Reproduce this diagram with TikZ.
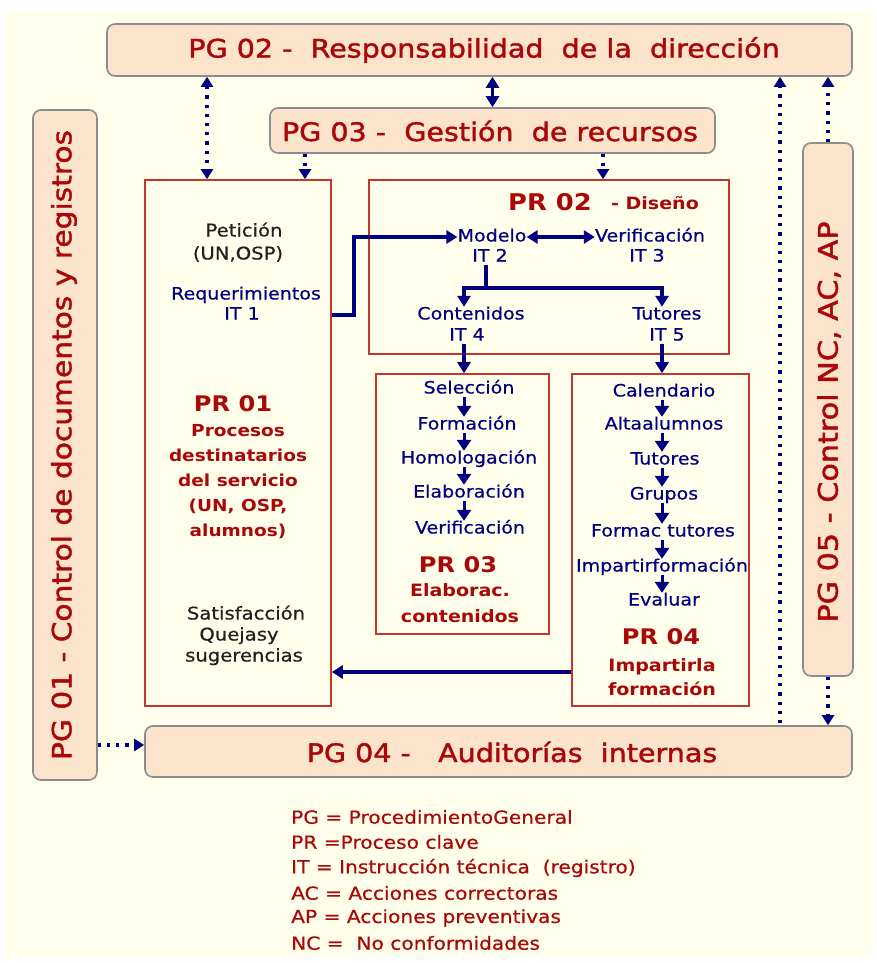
\documentclass[tikz,border=0pt]{standalone}
\usepackage{fontspec}
\setmainfont{DejaVu Sans}[FakeStretch=1.12, UprightFeatures={FakeBold=0.6}]
\newfontfamily\headfont{DejaVu Sans}[FakeStretch=1.12, FakeBold=1.6]
\usetikzlibrary{arrows.meta}

\definecolor{bgcream}{RGB}{255,255,236}
\definecolor{peachfill}{RGB}{252,228,204}
\definecolor{boxgray}{RGB}{140,140,140}
\definecolor{boxred}{RGB}{196,52,48}
\definecolor{navy}{RGB}{0,0,128}
\definecolor{dred}{RGB}{170,8,8}
\definecolor{txtgray}{RGB}{32,32,32}

\newcommand\pxsize[1]{\fontsize{#1}{#1}\selectfont}

\tikzset{
  peach/.style={draw=boxgray, line width=1.6pt, fill=peachfill, rounded corners=8pt, inner sep=0pt},
  redbox/.style={draw=boxred, line width=1.6pt, inner sep=0pt},
  ttl/.style={text=dred, font=\headfont\pxsize{25.5}, inner sep=0pt},
  vttl/.style={text=dred, font=\headfont\pxsize{26.5}, inner sep=0pt, rotate=90},
  itm/.style={text=navy, font=\pxsize{17}, inner sep=0pt, text height=12.5pt, text depth=3.5pt},
  gry/.style={text=txtgray, font=\pxsize{17.5}, inner sep=0pt, text height=12.5pt, text depth=3.5pt},
  prlbl/.style={text=dred, font=\bfseries\pxsize{21.5}, inner sep=0pt},
  prdesc/.style={text=dred, font=\bfseries\pxsize{17}, inner sep=0pt, align=center},
  leg/.style={text=dred, font=\pxsize{18}, inner sep=0pt, anchor=west},
  dotline/.style={draw=navy, line width=3.2pt, dash pattern=on 3.2pt off 6pt},
  dotarr/.style={dotline, -{Triangle[width=12pt,length=10pt]}},
  dotboth/.style={dotline, {Triangle[width=12pt,length=10pt]}-{Triangle[width=12pt,length=10pt]}},
  flow/.style={draw=navy, line width=4pt},
  flowarr/.style={flow, -{Triangle[width=13pt,length=11pt]}},
  flowboth/.style={flow, {Triangle[width=13pt,length=11pt]}-{Triangle[width=13pt,length=11pt]}},
  steparr/.style={draw=navy, line width=3pt, -{Triangle[width=14pt,length=11pt]}},
}

\begin{document}
\begin{tikzpicture}[x=1pt,y=-1pt]
\useasboundingbox (0,0) rectangle (877,963);
\fill[white] (0,0) rectangle (877,963);
\fill[bgcream] (5,12) rectangle (872,957);

% general procedures
\node[peach, minimum width=745pt, minimum height=52pt] (pg02) at (479.5,50) {};
\node[ttl] (pg02t) at (484,50) {PG 02 - ~Responsabilidad ~de la ~dirección};
\node[peach, minimum width=445pt, minimum height=45pt] (pg03) at (492.5,130.5) {};
\node[ttl] (pg03t) at (490,131) {PG 03 - ~Gestión ~de recursos};
\node[peach, minimum width=707pt, minimum height=51pt] (pg04) at (498.5,751.5) {};
\node[ttl] (pg04t) at (512,752) {PG 04 - ~ Auditorías ~internas};
\node[peach, minimum width=64pt, minimum height=670pt] (pg01) at (65,445) {};
\node[vttl] (pg01t) at (64,445) {PG 01 - Control de documentos y registros};
\node[peach, minimum width=50pt, minimum height=533pt] (pg05) at (828,409.5) {};
\node[vttl, font=\headfont\pxsize{27}] (pg05t) at (829,422) {PG 05 - Control NC, AC, AP};

% key processes
\node[redbox, minimum width=186pt, minimum height=526pt] (pr01) at (238,443) {};
\node[redbox, minimum width=360pt, minimum height=174pt] (pr02) at (549,267) {};
\node[redbox, minimum width=173pt, minimum height=260pt] (pr03) at (462.5,504) {};
\node[redbox, minimum width=177pt, minimum height=332pt] (pr04) at (660.5,540) {};

% PR 01 contents
\node[gry] (pet) at (244,232) {Petición};
\node[gry] (un) at (238,255) {(UN,OSP)};
\node[itm] (req) at (246,295) {Requerimientos};
\node[itm] (it1) at (242,315) {IT 1};
\node[prlbl] (pr01t) at (233,404) {PR 01};
\node[prdesc, font=\bfseries\fontsize{16.5}{25}\selectfont] (pr01d) at (238,482)
  {Procesos\\destinatarios\\del servicio\\(UN, OSP,\\alumnos)};
\node[gry] (sat) at (246,615) {Satisfacción};
\node[gry] (quej) at (239,636) {Quejasy};
\node[gry] (sug) at (244,657) {sugerencias};

% PR 02 contents
\node[prlbl, font=\bfseries\pxsize{23}] (pr02t) at (550,202) {PR 02};
\node[prdesc] (pr02d) at (655,203) {- Diseño};
\node[itm] (mod) at (492,237) {Modelo};
\node[itm] (it2) at (490,257) {IT 2};
\node[itm] (ver) at (650,237) {Verificación};
\node[itm] (it3) at (647,257) {IT 3};
\node[itm] (cont) at (471,315) {Contenidos};
\node[itm] (it4) at (467,336) {IT 4};
\node[itm] (tut) at (667,315) {Tutores};
\node[itm] (it5) at (667,336) {IT 5};

% PR 03 contents
\node[itm] (sel) at (469,389) {Selección};
\node[itm] (form) at (467,425) {Formación};
\node[itm] (hom) at (469,459) {Homologación};
\node[itm] (ela) at (469,493) {Elaboración};
\node[itm] (ver3) at (470,529) {Verificación};
\node[prlbl] (pr03t) at (458,565) {PR 03};
\node[prdesc, font=\bfseries\fontsize{17}{26}\selectfont] (pr03d) at (460,603) {Elaborac.\\contenidos};

% PR 04 contents
\node[itm] (cal) at (664,392) {Calendario};
\node[itm] (alta) at (664,425) {Altaalumnos};
\node[itm] (tut4) at (665,460) {Tutores};
\node[itm] (gru) at (664,495) {Grupos};
\node[itm] (fort) at (663,532) {Formac tutores};
\node[itm] (imp) at (662,567) {Impartirformación};
\node[itm] (eva) at (664,601) {Evaluar};
\node[prlbl] (pr04t) at (661,637) {PR 04};
\node[prdesc, font=\bfseries\fontsize{17}{24}\selectfont] (pr04d) at (662,677) {Impartirla\\formación};

% legend
\node[leg] (l1) at (291,817) {PG = ProcedimientoGeneral};
\node[leg] (l2) at (291,842) {PR =Proceso clave};
\node[leg] (l3) at (291,868) {IT = Instrucción técnica ~(registro)};
\node[leg] (l4) at (291,893) {AC = Acciones correctoras};
\node[leg] (l5) at (291,918) {AP = Acciones preventivas};
\node[leg] (l6) at (291,943) {NC = ~No conformidades};

% guide columns and rows for connectors
\coordinate (c1) at (207,0);
\coordinate (c2) at (305,0);
\coordinate (c3) at (603,0);
\coordinate (c4) at (780,0);
\coordinate (r1) at (0,745);
\coordinate (ret) at (0,672);
\coordinate (bar) at (486,288);
\coordinate (a3) at (464,0);
\coordinate (a4) at (662,0);

% links between the general procedures
\draw[dotboth] (pg02.south -| c1) -- (pr01.north -| c1);
\draw[flowboth, line width=3pt] (pg03.north) -- (pg03.north |- pg02.south);
\draw[dotarr] (pg03.south -| c2) -- (pr01.north -| c2);
\draw[dotarr] (pg03.south -| c3) -- (pr02.north -| c3);
\draw[dotarr] ([yshift=2pt]pg04.north -| c4) -- (pg02.south -| c4);
\draw[dotarr] (pg05.north) -- (pg05.north |- pg02.south);
\draw[dotarr] (pg05.south) -- (pg05.south |- pg04.north);
\draw[dotarr] (pg01.east |- r1) -- (pg04.west |- r1);

% design flow
\draw[flowarr] (pr01.east |- it1) -- ++(22,0) |- (mod.west);
\draw[flowboth] (mod.east) -- (ver.west);
\draw[flow] (it2.south -| bar) -- (bar);
\draw[flowarr] (bar) -| (cont.north -| a3);
\draw[flowarr] (bar) -| (tut.north -| a4);
\draw[flowarr] (it4.south -| a3) -- (pr03.north -| a3);
\draw[flowarr] (it5.south -| a4) -- (pr04.north -| a4);
\draw[flowarr] (pr04.west |- ret) -- (pr01.east |- ret);

% steps inside PR 03
\draw[steparr] (sel.south -| a3) -- (form.north -| a3);
\draw[steparr] (form.south -| a3) -- (hom.north -| a3);
\draw[steparr] (hom.south -| a3) -- (ela.north -| a3);
\draw[steparr] (ela.south -| a3) -- (ver3.north -| a3);

% steps inside PR 04
\draw[steparr] (cal.south -| a4) -- (alta.north -| a4);
\draw[steparr] (alta.south -| a4) -- (tut4.north -| a4);
\draw[steparr] (tut4.south -| a4) -- (gru.north -| a4);
\draw[steparr] (gru.south -| a4) -- (fort.north -| a4);
\draw[steparr] (fort.south -| a4) -- (imp.north -| a4);
\draw[steparr] (imp.south -| a4) -- (eva.north -| a4);
\end{tikzpicture}
\end{document}
